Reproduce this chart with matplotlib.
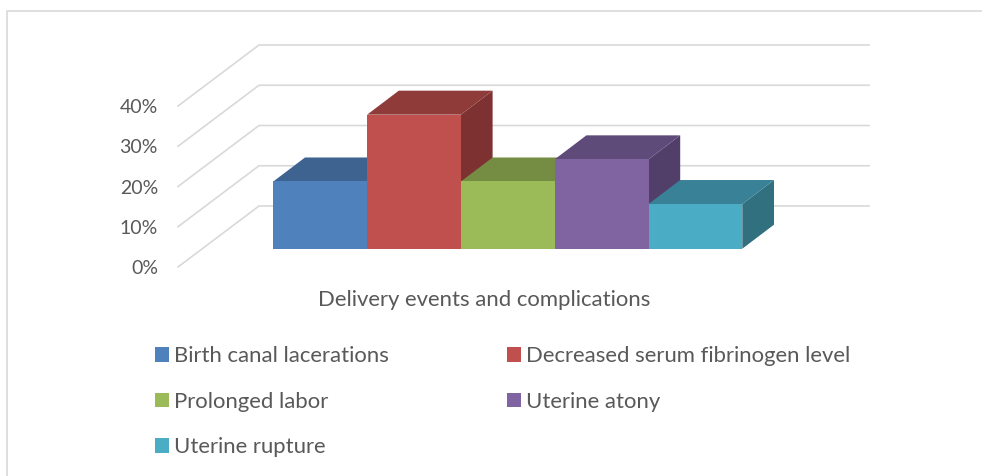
import matplotlib
matplotlib.use("Agg")
import matplotlib.pyplot as plt
from matplotlib.patches import Polygon
from matplotlib.ticker import PercentFormatter

categories = ["Birth canal lacerations", "Decreased serum fibrinogen level",
              "Prolonged labor", "Uterine atony", "Uterine rupture"]
values = [16.7, 33.3, 16.7, 22.2, 11.1]
yticks = [0, 10, 20, 30, 40]
xlabel = "Delivery events and complications"

front_colors = ["#4F81BD", "#C0504D", "#9BBB59", "#8064A2", "#4BACC6"]
top_colors = ["#3E6390", "#8F3B39", "#758D43", "#5F4B79", "#388196"]
side_colors = ["#345379", "#7D3231", "#657A3A", "#523F69", "#31707F"]

W, H = 982, 476
GRID = "#D9D9D9"
TEXT = "#595959"
plt.rcParams["font.family"] = ["Lato", "DejaVu Sans"]

fig = plt.figure(figsize=(W / 100, H / 100), dpi=100)

# axes box in pixels: front-left wall edge to the end of the back wall
left, right, bottom, top = 178, 869, 267, 44.5
ax = fig.add_axes([left / W, 1 - bottom / H, (right - left) / W, (bottom - top) / H])

px_x = 93.8     # pixels per bar
px_y = 4.025    # pixels per percent
first_bar = (273.3 - left) / px_x
ax.set_xlim(-first_bar, (right - 273.3) / px_x)
ax.set_ylim(0, (bottom - top) / px_y)

# walls
wall_dx = 81 / px_x
wall_dy = 61 / px_y
x_end = ax.get_xlim()[1]
for t in yticks:
    ax.plot([-first_bar, -first_bar + wall_dx, x_end], [t, t + wall_dy, t + wall_dy],
            color=GRID, lw=1.2, zorder=1, clip_on=False, solid_joinstyle="miter")

# bars, left to right so the next bar covers the hidden parts
base = (bottom - 248.7) / px_y
dx = 31.7 / px_x
dy = 24 / px_y
handles = []
for i, v in enumerate(values):
    z = 2 + i
    y1 = base + v
    ax.add_patch(Polygon([(i + 1, base), (i + 1 + dx, base + dy), (i + 1 + dx, y1 + dy), (i + 1, y1)],
                         facecolor=side_colors[i], edgecolor="none", zorder=z))
    ax.add_patch(Polygon([(i, y1), (i + 1, y1), (i + 1 + dx, y1 + dy), (i + dx, y1 + dy)],
                         facecolor=top_colors[i], edgecolor="none", zorder=z))
    handles.append(ax.bar(i, v, width=1, bottom=base, align="edge", color=front_colors[i],
                          label=categories[i], zorder=z + 0.5))

for s in ax.spines.values():
    s.set_visible(False)
ax.set_xticks([])
ax.set_yticks(yticks)
ax.yaxis.set_major_formatter(PercentFormatter(decimals=0))
ax.tick_params(axis="y", length=0, pad=14.4, labelsize=14, labelcolor=TEXT)

ax.set_xlabel(xlabel, fontsize=15.9, color=TEXT, va="center")
ax.xaxis.set_label_coords((484 - left) / (right - left), (bottom - 299.5) / (bottom - top))

# legend reads row by row, matplotlib fills columns first
order = [0, 2, 4, 1, 3]
fig.legend([handles[i] for i in order], [categories[i] for i in order],
           loc="upper left", bbox_to_anchor=(155 / W, 1 - 346 / H), ncols=2, frameon=False,
           fontsize=15.9, labelcolor=TEXT, borderpad=0, borderaxespad=0,
           handlelength=0.636, handleheight=0.636, handletextpad=0.23,
           columnspacing=5.36, labelspacing=1.16)

# chart frame
fig.add_artist(plt.Line2D([6.8 / W, 6.8 / W, 1], [0, 1 - 10.8 / H, 1 - 10.8 / H],
                          color=GRID, lw=1.2))

fig.savefig("out.png", dpi=100, facecolor="white")
